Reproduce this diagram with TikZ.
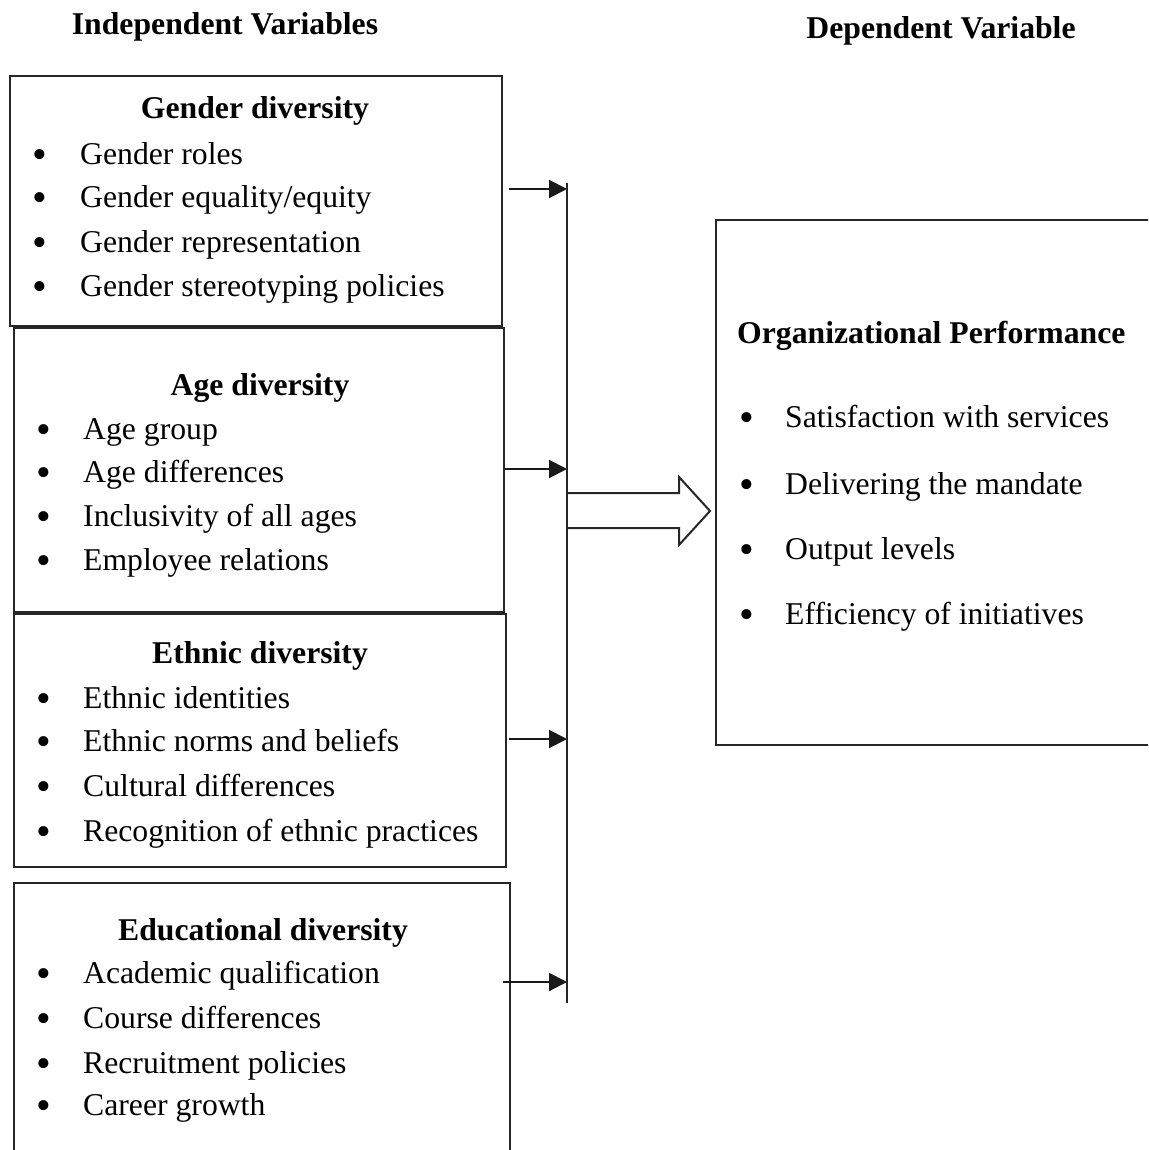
\documentclass[tikz,border=0pt]{standalone}
\usepackage{fontspec}
\setmainfont{Liberation Serif}
\usepackage{tikz}
\usetikzlibrary{arrows.meta}

\newcommand{\itembul}[1]{\makebox[#1][l]{\raisebox{-4pt}{\fontsize{42}{42}\selectfont\textbullet}}}

\begin{document}
\begin{tikzpicture}[x=1pt, y=-1pt,
		box/.style={draw=black!85, line width=2.2pt, inner sep=0pt},
		title/.style={anchor=base, inner sep=0pt, font=\fontsize{31.7}{37}\selectfont\bfseries},
		item/.style={anchor=base west, inner sep=0pt, font=\fontsize{31.7}{37}\selectfont},
		feed/.style={draw=black!90, line width=2pt, -{Triangle[length=18pt,width=18pt]}}]
				\useasboundingbox (0,0) rectangle (1148,1150);
				\clip (0,0) rectangle (1148,1150);

				% column heads
				\node[title] (indep) at (225, 35) {Independent Variables};
				\node[title] (dep) at (941, 39) {Dependent Variable};

				% boxes
				\node[box, minimum width=492pt, minimum height=250pt] (gender) at (256, 201) {};
				\node[box, minimum width=490pt, minimum height=284pt] (age) at (259, 470) {};
				\node[box, minimum width=492pt, minimum height=253pt] (ethnic) at (260, 740.5) {};
				\node[box, minimum width=496pt, minimum height=297pt] (edu) at (262, 1031.5) {};
				\node[box, minimum width=454pt, minimum height=525pt] (perf) at (943, 482.5) {};

				% gender diversity
				\node[title] (gtitle) at (255, 119) {Gender diversity};
				\node[item] (g1) at (32, 165) {\itembul{48pt}Gender roles};
				\node[item] (g2) at (32, 208) {\itembul{48pt}Gender equality/equity};
				\node[item] (g3) at (32, 252) {\itembul{48pt}Gender representation};
				\node[item] (g4) at (32, 296) {\itembul{48pt}Gender stereotyping policies};

				% age diversity
				\node[title] (atitle) at (260, 395) {Age diversity};
				\node[item] (a1) at (36, 439) {\itembul{47pt}Age group};
				\node[item] (a2) at (36, 482) {\itembul{47pt}Age differences};
				\node[item] (a3) at (36, 526) {\itembul{47pt}Inclusivity of all ages};
				\node[item] (a4) at (36, 570) {\itembul{47pt}Employee relations};

				% ethnic diversity
				\node[title] (etitle) at (260, 663) {Ethnic diversity};
				\node[item] (e1) at (36, 708) {\itembul{47pt}Ethnic identities};
				\node[item] (e2) at (36, 751) {\itembul{47pt}Ethnic norms and beliefs};
				\node[item] (e3) at (36, 796) {\itembul{47pt}Cultural differences};
				\node[item] (e4) at (36, 841) {\itembul{47pt}Recognition of ethnic practices};

				% educational diversity
				\node[title] (dtitle) at (263, 940) {Educational diversity};
				\node[item] (d1) at (36, 983) {\itembul{47pt}Academic qualification};
				\node[item] (d2) at (36, 1028) {\itembul{47pt}Course differences};
				\node[item] (d3) at (36, 1073) {\itembul{47pt}Recruitment policies};
				\node[item] (d4) at (36, 1115) {\itembul{47pt}Career growth};

				% organizational performance
				\node[title, anchor=base west] (ptitle) at (737, 343) {Organizational Performance};
				\node[item] (p1) at (739, 427) {\itembul{46pt}Satisfaction with services};
				\node[item] (p2) at (739, 494) {\itembul{46pt}Delivering the mandate};
				\node[item] (p3) at (739, 559) {\itembul{46pt}Output levels};
				\node[item] (p4) at (739, 624) {\itembul{46pt}Efficiency of initiatives};

				% collecting bar
				\coordinate (bartop) at (567, 183);
				\coordinate (barbot) at (567, 1003);
				\coordinate (in1) at (567, 189);
				\coordinate (in2) at (567, 469);
				\coordinate (in3) at (567, 739);
				\coordinate (in4) at (567, 982);
				\coordinate (bigtail) at (567, 511);

				\draw [draw=black!85, line width=2pt] (bartop) to (barbot);
				\draw [feed] ([xshift=6pt]gender.east |- in1) to (in1);
				\draw [feed] (age.east |- in2) to (in2);
				\draw [feed] ([xshift=2pt]ethnic.east |- in3) to (in3);
				\draw [feed] ([xshift=-8pt]edu.east |- in4) to (in4);

				% hollow arrow to performance
				\draw [draw=black!85, line width=2pt, line join=miter] (bigtail) ++(0,-18) -- ++(112,0) -- ++(0,-16)
					-- ++(31,34) -- ++(-31,34) -- ++(0,-17) -- ++(-112,0);
		\end{tikzpicture}
\end{document}
